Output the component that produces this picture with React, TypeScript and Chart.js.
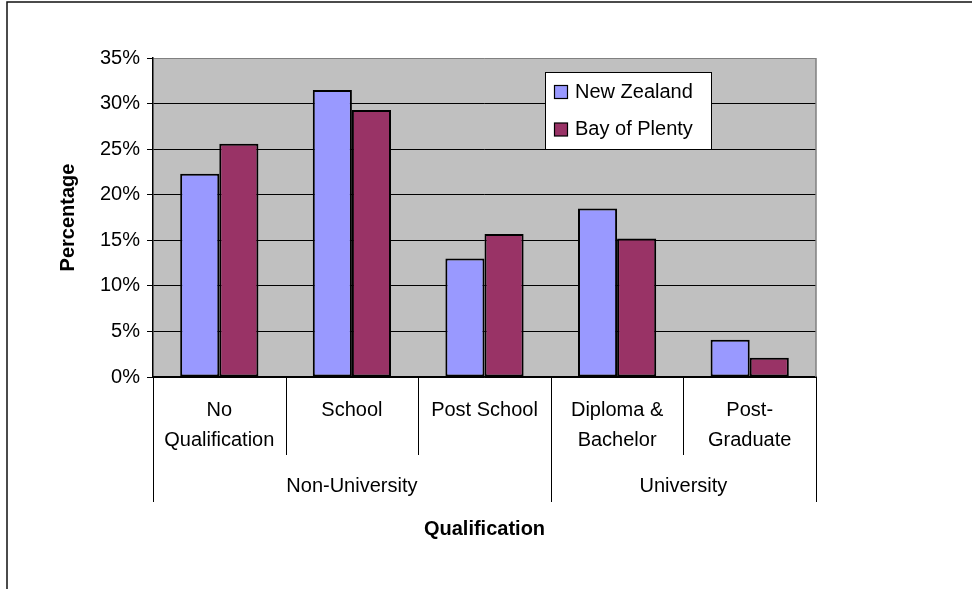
import React, { useEffect, useRef } from 'react';
import { Chart, registerables } from 'chart.js';
Chart.register(...registerables);

const categories: string[][] = [
  ['No', 'Qualification'],
  ['School'],
  ['Post School'],
  ['Diploma &', 'Bachelor'],
  ['Post-', 'Graduate'],
];
const seriesNames = ['New Zealand', 'Bay of Plenty'];
const nzValues = [22.3, 31.5, 13.0, 18.5, 4.1];
const bopValues = [25.6, 29.3, 15.7, 15.2, 2.1];
const groupLabels = ['Non-University', 'University'];
const groupSizes = [3, 2];
const yMax = 35;
const yStep = 5;

const FONT = '"Liberation Sans", Arial, Helvetica, sans-serif';

const chartPlugin = {
  id: 'excelLook',
  beforeDraw(chart: any) {
    const { ctx, chartArea: a } = chart;
    ctx.save();
    ctx.fillStyle = '#ffffff';
    ctx.fillRect(0, 0, chart.width, chart.height);
    ctx.fillStyle = '#C0C0C0';
    ctx.fillRect(a.left, a.top, a.right - a.left, a.bottom - a.top);
    // outer frame
    ctx.strokeStyle = '#111';
    ctx.lineWidth = 1.5;
    ctx.beginPath();
    ctx.moveTo(7, chart.height + 5);
    ctx.lineTo(7, 2);
    ctx.lineTo(chart.width + 5, 2);
    ctx.stroke();
    ctx.restore();
  },
  beforeDatasetsDraw(chart: any) {
    const { ctx, chartArea: a } = chart;
    ctx.save();
    ctx.strokeStyle = '#808080';
    ctx.lineWidth = 1.5;
    ctx.beginPath();
    ctx.moveTo(a.right, a.top);
    ctx.lineTo(a.right, a.bottom);
    ctx.stroke();
    ctx.restore();
  },
  afterDraw(chart: any) {
    const { ctx, chartArea: a } = chart;
    const xs = chart.scales.x;
    const n = chart.data.labels.length;
    const b: number[] = [a.left];
    for (let i = 1; i < n; i++) {
      b.push((xs.getPixelForValue(i - 1) + xs.getPixelForValue(i)) / 2);
    }
    b.push(a.right);
    const groupBounds = new Set<number>([0]);
    let acc = 0;
    groupSizes.forEach((s) => {
      acc += s;
      groupBounds.add(acc);
    });
    ctx.save();
    ctx.strokeStyle = '#000';
    ctx.lineWidth = 1;
    b.forEach((x, i) => {
      const len = groupBounds.has(i) ? 125 : 78;
      const px = Math.round(x) + 0.5;
      ctx.beginPath();
      ctx.moveTo(px, a.bottom);
      ctx.lineTo(px, a.bottom + len);
      ctx.stroke();
    });
    // group labels
    ctx.fillStyle = '#000';
    ctx.font = `20px ${FONT}`;
    ctx.textAlign = 'center';
    ctx.textBaseline = 'middle';
    let start = 0;
    groupLabels.forEach((g, gi) => {
      const end = start + groupSizes[gi];
      ctx.fillText(g, (b[start] + b[end]) / 2, a.bottom + 109);
      start = end;
    });
    // legend
    const lx = 545.5, ly = 72.5, lw = 166, lh = 77;
    ctx.fillStyle = '#ffffff';
    ctx.fillRect(lx, ly, lw, lh);
    ctx.strokeStyle = '#000';
    ctx.lineWidth = 1;
    ctx.strokeRect(lx, ly, lw, lh);
    ctx.textAlign = 'left';
    chart.data.datasets.forEach((ds: any, i: number) => {
      const cy = 92 + i * 37.5;
      ctx.fillStyle = ds.backgroundColor;
      ctx.fillRect(554.5, cy - 6.5, 13, 13);
      ctx.strokeStyle = '#000';
      ctx.lineWidth = 1.2;
      ctx.strokeRect(554.5, cy - 6.5, 13, 13);
      ctx.fillStyle = '#000';
      ctx.fillText(ds.label, 575, cy);
    });
    ctx.restore();
  },
};

export default function App() {
  const ref = useRef<HTMLCanvasElement | null>(null);
  useEffect(() => {
    if (!ref.current) return;
    Chart.defaults.font.family = FONT;
    Chart.defaults.font.size = 20;
    Chart.defaults.color = '#000';
    const chart = new Chart(ref.current, {
      type: 'bar',
      data: {
        labels: categories,
        datasets: [
          {
            label: seriesNames[0],
            data: nzValues,
            backgroundColor: '#9999FF',
            borderColor: '#000',
            borderWidth: 2,
            borderSkipped: false,
          },
          {
            label: seriesNames[1],
            data: bopValues,
            backgroundColor: '#993366',
            borderColor: '#000',
            borderWidth: 2,
            borderSkipped: false,
          },
        ],
      },
      options: {
        responsive: false,
        animation: false,
        events: [],
        layout: { padding: { top: 58, right: 156, left: 0, bottom: 0 } },
        categoryPercentage: 0.59,
        barPercentage: 1.0,
        plugins: {
          legend: { display: false },
          tooltip: { enabled: false },
          title: { display: false },
        },
        scales: {
          x: {
            grid: { display: false },
            border: { display: true, color: '#000', width: 1.5 },
            ticks: {
              padding: 10,
              maxRotation: 0,
              autoSkip: false,
              font: { size: 20, lineHeight: 1.5 },
              color: '#000',
            },
            title: {
              display: true,
              text: 'Qualification',
              font: { size: 20, weight: 'bold' },
              color: '#000',
              padding: { top: 0, bottom: 48 },
            },
            afterFit: (scale: any) => {
              scale.height = 212;
            },
          },
          y: {
            min: 0,
            max: yMax,
            ticks: {
              stepSize: yStep,
              padding: 7,
              color: '#000',
              font: { size: 20 },
              callback: (v: any) => `${v}%`,
            },
            grid: {
              color: (c: any) => (c.tick && c.tick.value === yMax ? '#808080' : '#000'),
              lineWidth: 1,
              drawTicks: true,
              tickLength: 6,
              tickColor: '#000',
            },
            border: { display: true, color: '#000', width: 1.5 },
            title: {
              display: true,
              text: 'Percentage',
              font: { size: 20, weight: 'bold' },
              color: '#000',
              padding: { top: 56, bottom: 0 },
            },
            afterFit: (scale: any) => {
              scale.width = 153;
            },
          },
        },
      },
      plugins: [chartPlugin],
    } as any);
    return () => chart.destroy();
  }, []);
  return (
    <div style={{ position: 'absolute', left: 0, top: 0, width: 972, height: 589 }}>
      <canvas ref={ref} width={972} height={589} style={{ display: 'block', width: 972, height: 589 }} />
    </div>
  );
}
